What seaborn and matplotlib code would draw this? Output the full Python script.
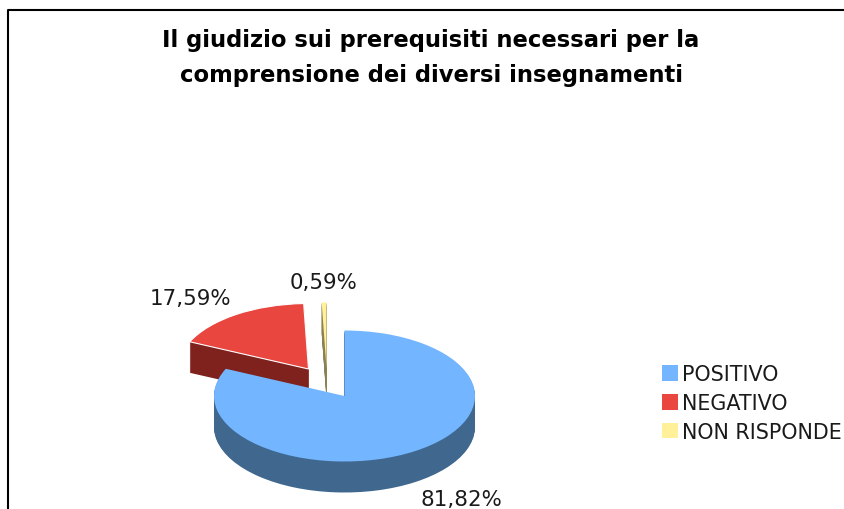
import matplotlib
matplotlib.use("Agg")
import matplotlib.pyplot as plt
from matplotlib.lines import Line2D
from matplotlib.patches import Patch
import seaborn as sns

# dati
categorie = ["POSITIVO", "NEGATIVO", "NON RISPONDE"]
valori = [81.82, 17.59, 0.59]
titolo = "Il giudizio sui prerequisiti necessari per la\ncomprensione dei diversi insegnamenti"

colori = ["#73B6FF", "#E8463F", "#FFF099"]
colori_scuri = ["#40688F", "#7F211C", "#8A8255"]

W, H = 844, 510
cx, cy = 344.5, 397    # centro della torta in pixel
rx, ry = 130.5, 65.5   # raggi in pixel
prof = 31              # spessore 3d

sns.set_theme(style="white")
plt.rcParams["font.family"] = "DejaVu Sans"

fig = plt.figure(figsize=(W / 100, H / 100), dpi=100)
ax = fig.add_axes([0, 0, 1, 1])


def px(x, y):
    return x / W, 1 - y / H


# spostamento delle fette in pixel (la fetta grande resta ferma)
spost = [(0, 0), (-36, -27), (-18, -28)]
ordine_z = [5, 1, 3]

# lato scuro: tante torte una sotto l'altra, poi la faccia sopra
for d in list(range(prof, 0, -1)) + [0]:
    cols = colori if d == 0 else colori_scuri
    fette, _ = ax.pie(valori, colors=cols, startangle=90, counterclock=False,
                      wedgeprops={"linewidth": 0})
    for i, f in enumerate(fette):
        dx, dy = spost[i]
        f.set_center((dx / rx, -(dy + d) / ry))
        f.set_zorder(ordine_z[i] + (1 if d == 0 else 0))
        if d == 0 and i == 1:
            f.set_edgecolor("white")
            f.set_linewidth(0.8)

ax.set_aspect("auto")
ax.set_xlim(-cx / rx, (W - cx) / rx)
ax.set_ylim((cy - H) / ry, cy / ry)
ax.axis("off")

# etichette
pos_etichette = [(461, 500), (190.5, 299), (323.5, 283)]
for v, (x, y) in zip(valori, pos_etichette):
    tx, ty = px(x, y)
    fig.text(tx, ty, f"{v:.2f}%".replace(".", ","), ha="center", va="center",
             fontsize=15.4, color="#1a1a1a")

# titolo
tx, ty = px(431, 58)
fig.text(tx, ty, titolo, ha="center", va="center", fontsize=16.25, fontweight="bold",
         color="black", linespacing=1.7)

# legenda
maniglie = [Patch(facecolor=c, edgecolor="none") for c in colori]
ax.legend(maniglie, categorie, loc="center left", bbox_to_anchor=px(654, 404),
          bbox_transform=fig.transFigure, frameon=False, fontsize=14.9,
          handlelength=0.77, handleheight=0.77, handletextpad=0.2,
          labelspacing=0.42, borderpad=0.4, borderaxespad=0, labelcolor="#1a1a1a")

# cornice nera a sinistra e in alto
xs, ys = zip(px(8, H), px(8, 11), px(W, 11))
fig.add_artist(Line2D(xs, ys, color="black", lw=1.5))

fig.savefig("out.png", dpi=100)
